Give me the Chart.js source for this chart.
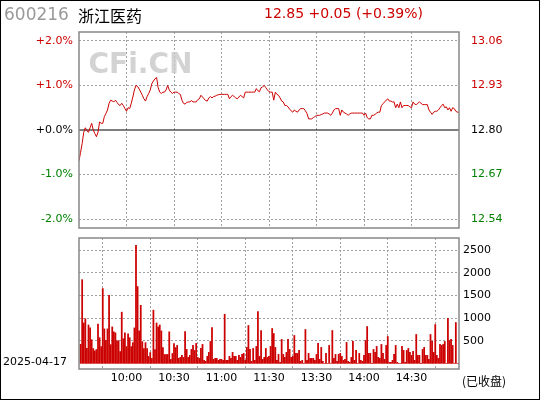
<!DOCTYPE html>
<html><head><meta charset="utf-8">
<script src="https://cdn.jsdelivr.net/npm/chart.js@4.4.1/dist/chart.umd.min.js"></script>
<style>
html,body{margin:0;padding:0;background:#fff;}
#wrap{position:relative;width:540px;height:400px;overflow:hidden;}
canvas{position:absolute;left:0;top:0;}
.t{position:absolute;white-space:nowrap;font-family:"DejaVu Sans",sans-serif;}
#frame{position:absolute;left:0;top:0;width:538px;height:398px;border:1px solid #000;}
</style></head>
<body><div id="wrap">
<canvas id="c1" width="540" height="400"></canvas>
<canvas id="c2" width="540" height="400"></canvas>
<div class="t" style="left:4px;top:4px;font-size:17px;color:#999;font-family:'DejaVu Sans'">600216</div>
<div class="t" style="left:78px;top:3px;font-size:16px;color:#000;font-family:'Noto Sans CJK SC'">浙江医药</div>
<div class="t" style="left:264px;top:5px;font-size:14px;color:#cc0000;">12.85 +0.05 (+0.39%)</div>
<div class="t" style="left:3px;top:355px;font-size:11px;color:#000;">2025-04-17</div>
<div class="t" style="left:462px;top:372px;font-size:12px;color:#000;font-family:'Noto Sans CJK SC'">(已收盘)</div>
<div id="frame"></div>
</div>
<script>
const prevClose = 12.80;
const pctTicks = [-2, -1, 0, 1, 2];
const volTicks = [500, 1000, 1500, 2000, 2500];
const timeTicks = [30, 60, 90, 120, 150, 180, 210];
const timeLabels = ["10:00","10:30","11:00","11:30","13:30","14:00","14:30"];
const pricePct = [
-0.69,-0.5,-0.3,-0.05,0.05,-0.02,-0.05,0.05,0.15,0.0,
-0.08,-0.15,-0.05,0.18,0.15,0.15,0.3,0.37,0.45,0.6,
0.67,0.65,0.63,0.67,0.62,0.57,0.55,0.6,0.55,0.48,
0.42,0.5,0.48,0.6,0.74,0.9,1.0,0.98,0.92,0.85,
0.78,0.7,0.65,0.75,0.82,0.9,1.04,1.1,1.15,1.18,
0.95,0.85,0.82,0.85,0.85,0.9,1.0,0.9,0.85,0.82,
0.85,0.85,0.85,0.82,0.8,0.67,0.6,0.58,0.62,0.63,
0.63,0.66,0.63,0.63,0.63,0.68,0.7,0.78,0.74,0.7,
0.66,0.65,0.72,0.75,0.72,0.75,0.76,0.78,0.79,0.80,
0.80,0.80,0.80,0.80,0.80,0.70,0.75,0.78,0.75,0.72,
0.70,0.74,0.78,0.75,0.72,0.85,0.85,0.85,0.85,0.85,
0.85,0.85,0.93,0.88,0.86,0.95,0.97,1.0,0.95,0.90,
0.86,
0.85,0.85,0.67,0.85,0.80,0.78,0.72,0.65,0.63,0.55,
0.55,0.52,0.47,0.43,0.4,0.45,0.42,0.4,0.45,0.48,
0.48,0.48,0.43,0.37,0.25,0.25,0.25,0.28,0.3,0.33,
0.33,0.33,0.35,0.36,0.38,0.38,0.38,0.36,0.33,0.38,
0.45,0.48,0.48,0.48,0.33,0.45,0.4,0.38,0.36,0.33,
0.36,0.38,0.38,0.38,0.38,0.38,0.38,0.38,0.38,0.33,
0.38,0.28,0.25,0.25,0.33,0.33,0.35,0.38,0.40,0.40,
0.55,0.59,0.63,0.67,0.70,0.65,0.65,0.63,0.63,0.50,
0.58,0.50,0.63,0.50,0.55,0.55,0.55,0.55,0.52,0.50,
0.63,0.58,0.57,0.60,0.63,0.60,0.57,0.57,0.57,0.57,
0.45,0.40,0.35,0.40,0.42,0.42,0.45,0.50,0.55,0.58,
0.50,0.52,0.45,0.50,0.42,0.50,0.48,0.42,0.40,0.40];
const volume = [
421,1849,892,986,334,848,783,522,327,276,305,870,566,370,1653,761,508,761,1501,413,805,696,674,500,500,261,1131,544,674,370,653,566,370,457,783,2610,1697,718,1283,479,327,457,327,152,239,109,1175,305,892,805,848,718,348,196,196,196,696,87,218,435,348,
396,110,132,176,132,704,308,132,176,308,396,286,440,132,110,330,418,66,44,154,242,484,792,88,110,110,66,88,88,66,1085,66,66,154,110,242,154,154,66,176,132,198,220,66,352,836,308,44,330,66,374,1143,154,726,88,132,330,132,154,374,
770,660,352,66,198,22,528,198,132,242,528,308,132,154,616,220,220,286,44,66,0,748,66,220,110,110,110,66,198,440,88,352,44,0,220,0,396,0,726,110,198,44,198,220,154,66,88,462,44,22,132,484,66,286,0,220,66,44,176,
506,814,220,220,0,308,242,374,132,110,418,220,88,396,594,22,22,66,198,396,22,0,0,374,286,22,286,330,242,176,264,66,638,176,176,0,308,352,176,176,88,638,484,242,858,176,110,418,396,418,484,0,997,506,528,396,0,902,0,0,902];

const RED="#cc0000", GREEN="#008000", GRID="#a0a0a0";
const FONT={family:"DejaVu Sans",size:11};
const tickColor=v=>v>0?RED:(v<0?GREEN:"#000");

const frame={id:'frame',afterDraw(c){const a=c.chartArea,x=c.ctx;x.save();x.strokeStyle="#888";x.lineWidth=1.5;x.strokeRect(a.left,a.top,a.right-a.left,a.bottom-a.top);x.restore();}};
const zeroLine={id:'zero',beforeDatasetsDraw(c){const y=c.scales.y.getPixelForValue(0),a=c.chartArea,x=c.ctx;x.save();x.strokeStyle="#000";x.lineWidth=1.2;x.beginPath();x.moveTo(a.left,y);x.lineTo(a.right,y);x.stroke();
x.font="bold 28px 'DejaVu Sans'";x.fillStyle="rgba(200,200,200,0.8)";x.textBaseline="middle";x.fillText("CFi.CN",c.scales.x.getPixelForValue(6),c.scales.y.getPixelForValue(1.45));x.restore();}};

new Chart(document.getElementById('c1'),{
 type:'line',
 data:{datasets:[{data:pricePct.map((v,i)=>({x:i,y:v})),borderColor:RED,borderWidth:1,pointRadius:0,tension:0}]},
 options:{responsive:false,animation:false,layout:{padding:{top:32,bottom:172,left:0,right:0}},
  plugins:{legend:{display:false},tooltip:{enabled:false}},
  scales:{
   x:{type:'linear',min:0,max:240,afterBuildTicks:s=>{s.ticks=timeTicks.map(v=>({value:v}))},afterFit:s=>{s.height=0},
      ticks:{display:false},grid:{color:GRID,drawTicks:false},border:{display:false,dash:[2,2]}},
   y:{min:-2.2,max:2.2,position:'left',afterBuildTicks:s=>{s.ticks=pctTicks.map(v=>({value:v}))},afterFit:s=>{s.width=79},
      ticks:{font:FONT,padding:6,color:c=>tickColor(c.tick.value),callback:v=>(v<0?"":"+")+v.toFixed(1)+"%"},
      grid:{color:c=>c.tick&&c.tick.value===0?'rgba(0,0,0,0)':GRID,drawTicks:false},border:{display:false,dash:[2,2]}},
   y2:{min:-2.2,max:2.2,position:'right',afterBuildTicks:s=>{s.ticks=pctTicks.map(v=>({value:v}))},afterFit:s=>{s.width=81},
      ticks:{font:FONT,padding:4,color:c=>tickColor(c.tick.value),callback:v=>(prevClose*(1+v/100)).toFixed(2)},
      grid:{display:false},border:{display:false}}
  }},
 plugins:[zeroLine,frame]
});

new Chart(document.getElementById('c2'),{
 type:'bar',
 data:{datasets:[{data:volume.map((v,i)=>({x:i+1,y:v})),backgroundColor:RED,barThickness:1.1,categoryPercentage:1,barPercentage:1}]},
 options:{responsive:false,animation:false,layout:{padding:{top:238,bottom:0,left:79,right:0}},
  plugins:{legend:{display:false},tooltip:{enabled:false}},
  scales:{
   x:{type:'linear',min:0,max:240,offset:false,afterBuildTicks:s=>{s.ticks=timeTicks.map(v=>({value:v}))},afterFit:s=>{s.height=31},
      ticks:{font:FONT,color:"#000",padding:3,maxRotation:0,autoSkip:false,callback:v=>timeLabels[timeTicks.indexOf(v)]},
      grid:{color:GRID,drawTicks:false},border:{display:false,dash:[2,2]}},
   y:{min:-125,max:2770,position:'right',afterBuildTicks:s=>{s.ticks=volTicks.map(v=>({value:v}))},afterFit:s=>{s.width=81},
      ticks:{font:FONT,color:"#000",padding:4,callback:v=>String(v)},
      grid:{color:GRID,drawTicks:false},border:{display:false,dash:[2,2]}}
  }},
 plugins:[frame]
});
</script></body></html>
